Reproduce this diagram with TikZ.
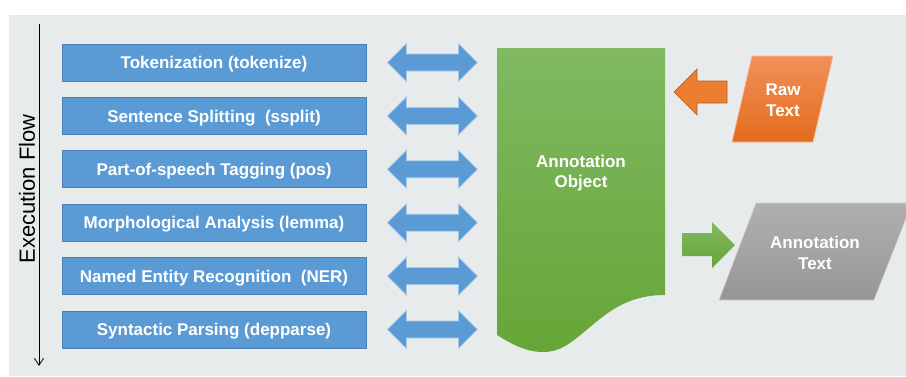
\documentclass[tikz,border=0pt]{standalone}
\usepackage{fontspec}
\setmainfont{Liberation Sans}
\usetikzlibrary{arrows.meta}
\definecolor{backgray}{HTML}{E8EBEC}
\definecolor{stageblue}{HTML}{5B9BD5}
\definecolor{stageline}{HTML}{4A7EB5}
\definecolor{arrowedge}{HTML}{A9CBEA}
\definecolor{docgreenA}{HTML}{80B962}
\definecolor{docgreenB}{HTML}{65A637}
\definecolor{rawA}{HTML}{F2905A}
\definecolor{rawM}{HTML}{F47D2C}
\definecolor{rawB}{HTML}{E36C1C}
\definecolor{rawedge}{HTML}{F6B893}
\definecolor{inorange}{HTML}{ED7D31}
\definecolor{inedge}{HTML}{B4612B}
\definecolor{outA}{HTML}{B0B0B0}
\definecolor{outB}{HTML}{969696}
\definecolor{outedge}{HTML}{CDD0D2}
\tikzset{
    boldtext/.style={text=white, align=center, font=\bfseries\fontsize{17}{20.5}\selectfont},
    stage/.style={boldtext, draw=stageline, fill=stageblue, line width=0.8pt,
        minimum width=304pt, minimum height=37pt, inner sep=0pt, text depth=0pt},
    blockarrow/.style={fill=stageblue, draw=arrowedge, line width=0.7pt}
}
\begin{document}
\begin{tikzpicture}[x=1pt, y=-1pt]
    \useasboundingbox (0,0) rectangle (906,376);
    \fill[backgray] (9,15) rectangle (906,376);
    \draw[-{Straight Barb[length=7pt,width=9pt]}, line width=0.8pt] (39,24) -- (39,366);
    \node[rotate=90, font=\fontsize{22}{24}\selectfont] (flow) at (27,189) {Execution Flow};
    \foreach \txt [count=\i] in {Tokenization (tokenize), Sentence Splitting\ \ (ssplit),
        Part-of-speech Tagging (pos), Morphological Analysis (lemma),
        Named Entity Recognition\ \ (NER), Syntactic Parsing (depparse)} {
        \node[stage] (t\i) at (214, 9.1+53.4*\i) {\txt};
        \filldraw[blockarrow] ([xshift=21]t\i.east) -- ++(19,-19) -- ++(0,10.5) -- ++(52,0)
            -- ++(0,-10.5) -- ++(19,19) -- ++(-19,19) -- ++(0,-10.5) -- ++(-52,0) -- ++(0,10.5) -- cycle;
    }
    \shade[top color=docgreenA, bottom color=docgreenB] (497,48) -- (665,48) -- (665,295)
        .. controls (630,295) and (610,310) .. (590,327)
        .. controls (570,344) and (560,352) .. (543,352)
        .. controls (525,352) and (510,343) .. (497,335) -- cycle;
    \node[boldtext] (anno) at (581,173) {Annotation\\Object};
    \shade[top color=rawA, middle color=rawM, bottom color=rawB, draw=rawedge, line width=0.6pt]
        (752,56) -- (833,56) -- (813,142) -- (732,142) -- cycle;
    \node[boldtext] (raw) at (783,100) {Raw\\Text};
    \filldraw[fill=inorange, draw=inedge, line width=0.7pt] (727,81) -- (697,81) -- (697,69)
        -- (674,92) -- (697,115) -- (697,103) -- (727,103) -- cycle;
    \shade[top color=docgreenA, bottom color=docgreenB] (682,233) -- (712,233) -- (712,222)
        -- (735,245) -- (712,268) -- (712,256) -- (682,256) -- cycle;
    \shade[top color=outA, bottom color=outB, draw=outedge, line width=0.6pt]
        (756,203) -- (912,203) -- (874,300) -- (719,300) -- cycle;
    \node[boldtext] (atext) at (815,253) {Annotation\\Text};
\end{tikzpicture}
\end{document}
